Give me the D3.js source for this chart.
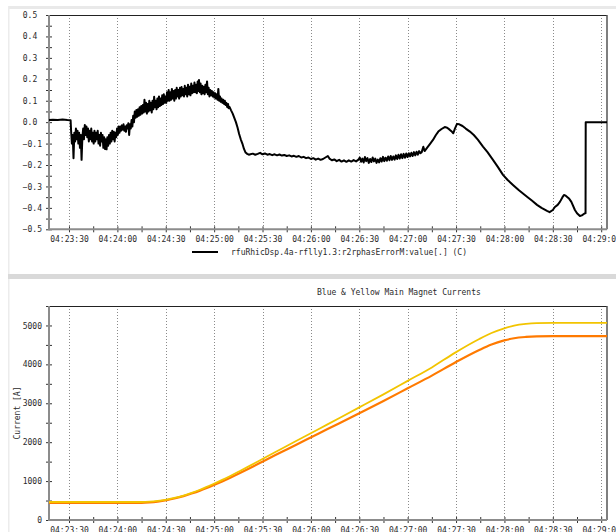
<!DOCTYPE html>
<html><head><meta charset="utf-8">
<script src="https://cdn.jsdelivr.net/npm/d3@7"></script>
<style>
body{margin:0;background:#fff;}
svg text{font-family:"DejaVu Sans Mono",monospace;font-size:8px;fill:#2a2a2a;}
</style></head><body>
<svg id="c" width="616" height="532"></svg>
<script>
// ---------- data ----------
const timeTicks = ["04:23:30","04:24:00","04:24:30","04:25:00","04:25:30","04:26:00","04:26:30","04:27:00","04:27:30","04:28:00","04:28:30","04:29:00"];
const phaseTicks = [-0.5,-0.4,-0.3,-0.2,-0.1,0.0,0.1,0.2,0.3,0.4,0.5];
const currentTicks = [0,1000,2000,3000,4000,5000];
const legendLabel = "rfuRhicDsp.4a-rflly1.3:r2rphasErrorM:value[.] (C)";
const bottomTitle = "Blue & Yellow Main Magnet Currents";
const currentLabel = "Current [A]";

// phase error: [seconds after 04:23:00, value]
const phaseData = [
[17.6,0.010],[20,0.011],[23,0.010],[26,0.012],[29,0.010],[31.0,0.009],
[31.3,-0.04],[31.8,-0.10],[32.3,-0.06],[32.8,-0.168],[33.3,-0.05],[33.8,-0.09],[34.3,-0.03],[34.8,-0.08],[35.3,-0.04],[35.8,-0.10],
[36.3,-0.05],[36.8,-0.12],[37.3,-0.06],[37.8,-0.176],[38.3,-0.07],[38.8,-0.03],[39.3,-0.08],[39.8,-0.013],[40.3,-0.06],[40.8,-0.02],
[41.3,-0.07],[41.8,-0.03],[42.3,-0.09],[42.8,-0.04],[43.3,-0.08],[43.8,-0.03],[44.3,-0.09],[44.8,-0.05],[45.3,-0.10],[45.8,-0.04],
[46.3,-0.09],[46.8,-0.05],[47.3,-0.08],[47.8,-0.04],[48.3,-0.10],[48.8,-0.06],[49.3,-0.11],[49.8,-0.05],[50.3,-0.09],[50.8,-0.06],
[51.3,-0.12],[51.8,-0.07],[52.3,-0.125],[52.8,-0.08],[53.3,-0.127],[53.8,-0.07],[54.3,-0.11],[54.8,-0.06],[55.3,-0.10],[55.8,-0.05],
[56.3,-0.09],[56.8,-0.04],[57.3,-0.08],[57.8,-0.045],[58.3,-0.09],[58.8,-0.05],[59.3,-0.07],[59.8,-0.03],[60.3,-0.06],[60.8,-0.02],
[61.3,-0.05],[61.8,-0.02],[62.3,-0.04],[62.8,-0.015],[63.3,-0.035],[63.8,-0.01],[64.3,-0.04],[64.8,-0.02],[65.3,-0.045],[65.8,-0.015],
[66.3,-0.03],[66.8,-0.005],[67.3,-0.06],[67.8,-0.01],[68.3,-0.03],[68.8,0.01],[69.3,-0.02],[69.8,0.03],[70.3,0.0],[70.8,0.05],
[71.3,0.02],[71.8,0.057],[72.3,0.025],[72.8,0.06],[73.3,0.03],[73.8,0.07],[74.3,0.035],[74.8,0.075],[75.3,0.04],[75.8,0.08],
[76.3,0.045],[76.8,0.104],[77.3,0.05],[77.8,0.09],[78.3,0.04],[78.8,0.085],[79.3,0.05],[79.8,0.10],[80.3,0.055],[80.8,0.09],
[81.3,0.045],[81.8,0.10],[82.3,0.06],[82.8,0.118],[83.3,0.07],[83.8,0.10],[84.3,0.06],[84.8,0.11],[85.3,0.07],[85.8,0.12],
[86.3,0.075],[86.8,0.11],[87.3,0.08],[87.8,0.125],[88.3,0.085],[88.8,0.13],[89.3,0.09],[89.8,0.12],[90.3,0.09],[90.8,0.14],
[91.3,0.10],[91.8,0.15],[92.3,0.10],[92.8,0.14],[93.3,0.105],[93.8,0.155],[94.3,0.11],[94.8,0.145],[95.3,0.10],[95.8,0.15],
[96.3,0.11],[96.8,0.16],[97.3,0.12],[97.8,0.15],[98.3,0.11],[98.8,0.16],[99.3,0.12],[99.8,0.164],[100.3,0.125],[100.8,0.155],
[101.3,0.12],[101.8,0.17],[102.3,0.13],[102.8,0.16],[103.3,0.12],[103.8,0.175],[104.3,0.13],[104.8,0.165],[105.3,0.125],[105.8,0.18],
[106.3,0.135],[106.8,0.17],[107.3,0.14],[107.8,0.185],[108.3,0.14],[108.8,0.175],[109.3,0.135],[109.8,0.19],[110.3,0.145],[110.6,0.197],
[111.1,0.14],[111.6,0.18],[112.1,0.13],[112.6,0.17],[113.1,0.135],[113.6,0.165],[114.1,0.13],[114.6,0.175],[115.1,0.14],[115.6,0.19],
[116.1,0.13],[116.6,0.16],[117.1,0.12],[117.6,0.15],[118.1,0.125],[118.6,0.145],[119.1,0.12],[119.6,0.14],[120.1,0.115],[120.6,0.135],
[121.1,0.11],[121.6,0.13],[122.1,0.105],[122.6,0.155],[123.1,0.10],[123.6,0.12],[124.1,0.095],[124.6,0.11],[125.1,0.09],[125.6,0.105],
[126.1,0.085],[126.6,0.10],[127.1,0.08],[127.6,0.09],[128.1,0.07],[128.6,0.085],[129.1,0.065],[129.6,0.07],
[130.5,0.055],[131.5,0.04],[132.5,0.02],[133.5,0.0],[134.5,-0.025],[135.5,-0.055],[136.5,-0.08],[137.5,-0.10],[138.5,-0.125],[139.5,-0.142],
[140.5,-0.148],[141.5,-0.152],
[142.5,-0.15],[144,-0.147],[145.5,-0.152],[147,-0.148],[148.5,-0.143],[150,-0.15],[151.5,-0.146],[153,-0.152],[154.5,-0.149],[156,-0.154],
[157.5,-0.15],[159,-0.155],[160.5,-0.151],[162,-0.156],[163.5,-0.153],[165,-0.158],[166.5,-0.155],[168,-0.16],[169.5,-0.157],[171,-0.162],
[172.5,-0.158],[174,-0.165],[175.5,-0.162],[177,-0.168],[178.5,-0.165],[180,-0.172],[181.5,-0.168],[183,-0.175],[184.5,-0.17],[186,-0.176],
[187.5,-0.172],[189,-0.165],[190.5,-0.158],[191.5,-0.17],[193,-0.178],[194.5,-0.174],[196,-0.182],[197.5,-0.176],[199,-0.184],[200.5,-0.178],
[202,-0.185],[203.5,-0.178],[205,-0.184],[206.5,-0.177],[208,-0.183],[209.5,-0.175],
[210.3,-0.165],[211.1,-0.185],[211.9,-0.17],[212.7,-0.188],[213.5,-0.163],[214.3,-0.182],[215.1,-0.168],[215.9,-0.19],[216.7,-0.172],[217.5,-0.186],
[218.3,-0.165],[219.1,-0.183],[219.9,-0.17],[220.7,-0.19],[221.5,-0.175],[222.3,-0.188],[223.1,-0.168],[223.9,-0.184],[224.7,-0.162],[225.5,-0.182],
[226.3,-0.166],[227.1,-0.18],[227.9,-0.16],[228.7,-0.178],[229.5,-0.158],[230.3,-0.176],[231.1,-0.16],[231.9,-0.175],[232.7,-0.155],[233.5,-0.172],
[234.3,-0.152],[235.1,-0.17],[235.9,-0.15],[236.7,-0.168],[237.5,-0.148],[238.3,-0.166],[239.1,-0.146],[239.9,-0.163],[240.7,-0.145],[241.5,-0.16],
[242.3,-0.143],[243.1,-0.158],[243.9,-0.14],[244.7,-0.155],[245.5,-0.138],[246.3,-0.152],[247.1,-0.135],[247.9,-0.145],
[248.7,-0.14],[249.7,-0.115],[250.5,-0.135],[252,-0.12],[254,-0.10],[255.7,-0.083],[257.5,-0.06],[259,-0.044],[261,-0.032],[263,-0.023],
[264.5,-0.026],[266,-0.035],[267.5,-0.045],[268.3,-0.052],[269.3,-0.03],[270.6,-0.008],[272,-0.01],[274,-0.018],[276,-0.03],[278.6,-0.044],
[281,-0.06],[283.5,-0.082],[286.7,-0.114],[289.5,-0.14],[292.9,-0.176],[296,-0.21],[299.1,-0.246],[302,-0.27],[305.3,-0.293],[309,-0.318],
[314,-0.348],[317,-0.366],[320.2,-0.386],[323,-0.40],[326.4,-0.414],[328,-0.42],[330,-0.41],[331.3,-0.396],[333,-0.386],[334.4,-0.372],
[336,-0.35],[336.9,-0.34],[338,-0.343],[340,-0.356],[341.5,-0.372],[343.7,-0.41],[345,-0.425],[346.8,-0.438],[348,-0.435],[349.9,-0.425],
[350.3,-0.425],[350.4,0.0],[363.6,0.0]
];

// magnet currents: seconds after 04:23:00
const magnetT = [17.6,75,80,85,90.6,96,101,106,111.2,115,119.5,125,130,136,142,150.5,158,165,177,190,210,225,240,255,269.5,284.4,292,299.9,306,313.3,320,330,363.6];
const yellowI = [462,462,470,490,526,574,628,698,778,843,925,1030,1131,1259,1390,1581,1749,1903,2164,2452,2894,3229,3575,3922,4302,4652,4806,4927,4997,5041,5061,5068,5068];
const orangeI = [440,440,450,472,510,560,615,680,755,816,893,992,1088,1208,1331,1510,1668,1813,2060,2330,2745,3060,3385,3710,4050,4370,4510,4615,4672,4705,4720,4726,4726];

// ---------- drawing ----------
const svg = d3.select("#c");
const parseT = d3.timeParse("%H:%M:%S");
const base = parseT("04:23:00");
const toDate = s => new Date(base.getTime() + s * 1000);
const fmtT = d3.timeFormat("%H:%M:%S");

// panel decorations
svg.append("rect").attr("x", 8).attr("y", 6).attr("width", 608).attr("height", 3).attr("fill", "#e9e9e9");
svg.append("rect").attr("x", 8).attr("y", 6).attr("width", 1.5).attr("height", 526).attr("fill", "#ececec");
svg.append("rect").attr("x", 8).attr("y", 274).attr("width", 608).attr("height", 5).attr("fill", "#d9d9d9");

const L = 49, R = 607;
const x = d3.scaleTime().domain([toDate(17.6), toDate(363.6)]).range([L, R]);
const majorT = timeTicks.map(parseT);
const minorT = majorT.slice(0, -1).map(d => d3.timeSecond.offset(d, 15));

function panel(yScale, yTicks, yMinor, yFmt, negShift) {
  const [y0, y1] = yScale.range(); // bottom, top
  const g = svg.append("g");
  g.selectAll(".grid").data(majorT).join("line")
    .attr("x1", d => Math.round(x(d)) + 0.5).attr("x2", d => Math.round(x(d)) + 0.5)
    .attr("y1", y1).attr("y2", y0)
    .attr("stroke", "#8a8a8a").attr("stroke-width", 1).attr("stroke-dasharray", "1,2");
  const ax = g.append("g").attr("transform", `translate(0,${y0})`)
    .call(d3.axisBottom(x).tickValues(majorT).tickFormat(fmtT).tickSize(3).tickPadding(4).tickSizeOuter(0));
  const axm = g.append("g").attr("transform", `translate(0,${y0})`)
    .call(d3.axisBottom(x).tickValues(minorT).tickFormat("").tickSize(3).tickSizeOuter(0));
  const ay = g.append("g").attr("transform", `translate(${L},0)`)
    .call(d3.axisLeft(yScale).tickValues(yTicks).tickFormat(yFmt).tickSize(3).tickPadding(4).tickSizeOuter(0));
  const aym = g.append("g").attr("transform", `translate(${L},0)`)
    .call(d3.axisLeft(yScale).tickValues(yMinor).tickFormat("").tickSize(3).tickSizeOuter(0));
  [ax, axm, ay, aym].forEach(a => {
    a.select(".domain").remove();
    a.selectAll("line").attr("stroke", "#333");
    a.selectAll("text").attr("font-family", null).attr("font-size", null).attr("fill", null);
  });
  [ax, axm].forEach(a => a.selectAll("line").attr("y1", -3).attr("y2", 3));
  [ay, aym].forEach(a => a.selectAll("line").attr("x1", 3).attr("x2", -3));
  if (negShift) ay.selectAll("text").attr("dx", d => d >= 0 ? -4.8 : 0);
  g.append("line").attr("x1", L).attr("x2", R).attr("y1", y1 + 0.5).attr("y2", y1 + 0.5).attr("stroke", "#222").attr("stroke-width", 1);
  g.append("line").attr("x1", R).attr("x2", R).attr("y1", y1).attr("y2", y0).attr("stroke", "#555").attr("stroke-width", 1.5);
  g.append("line").attr("x1", L).attr("x2", L).attr("y1", y1).attr("y2", y0 + 1).attr("stroke", "#8c8c8c").attr("stroke-width", 2);
  g.append("line").attr("x1", L).attr("x2", R).attr("y1", y0).attr("y2", y0).attr("stroke", "#8c8c8c").attr("stroke-width", 2);
  return g;
}

// top panel
const yTop = d3.scaleLinear().domain([-0.5, 0.5]).range([229.3, 15]);
const phaseMinor = phaseTicks.slice(0, -1).map(v => +(v + 0.05).toFixed(2));
const gTop = panel(yTop, phaseTicks, phaseMinor, d3.format(".1f"), true);
gTop.append("path").datum(phaseData)
  .attr("d", d3.line().x(d => x(toDate(d[0]))).y(d => yTop(d[1])))
  .attr("fill", "none").attr("stroke", "#000").attr("stroke-width", 2).attr("stroke-linejoin", "round");

// legend
svg.append("line").attr("x1", 192).attr("x2", 218).attr("y1", 252).attr("y2", 252).attr("stroke", "#000").attr("stroke-width", 2);
svg.append("text").attr("x", 231).attr("y", 255).text(legendLabel);

// bottom panel
const yBot = d3.scaleLinear().domain([0, 5500]).range([520, 306]);
const curMinor = currentTicks.map(v => v + 500);
const gBot = panel(yBot, currentTicks, curMinor, d3.format("d"), false);
const magLine = vals => d3.line().curve(d3.curveMonotoneX)
  .x((d, i) => x(toDate(magnetT[i]))).y(d => yBot(d))(vals);
gBot.append("path").attr("d", magLine(orangeI)).attr("fill", "none").attr("stroke", "#ff7a00").attr("stroke-width", 2.2);
gBot.append("path").attr("d", magLine(yellowI)).attr("fill", "none").attr("stroke", "#f2c400").attr("stroke-width", 1.8);

svg.append("text").attr("x", 317).attr("y", 295).text(bottomTitle);
svg.append("text").attr("transform", "translate(20,413) rotate(-90)").attr("text-anchor", "middle").text(currentLabel);
</script>
</body></html>
